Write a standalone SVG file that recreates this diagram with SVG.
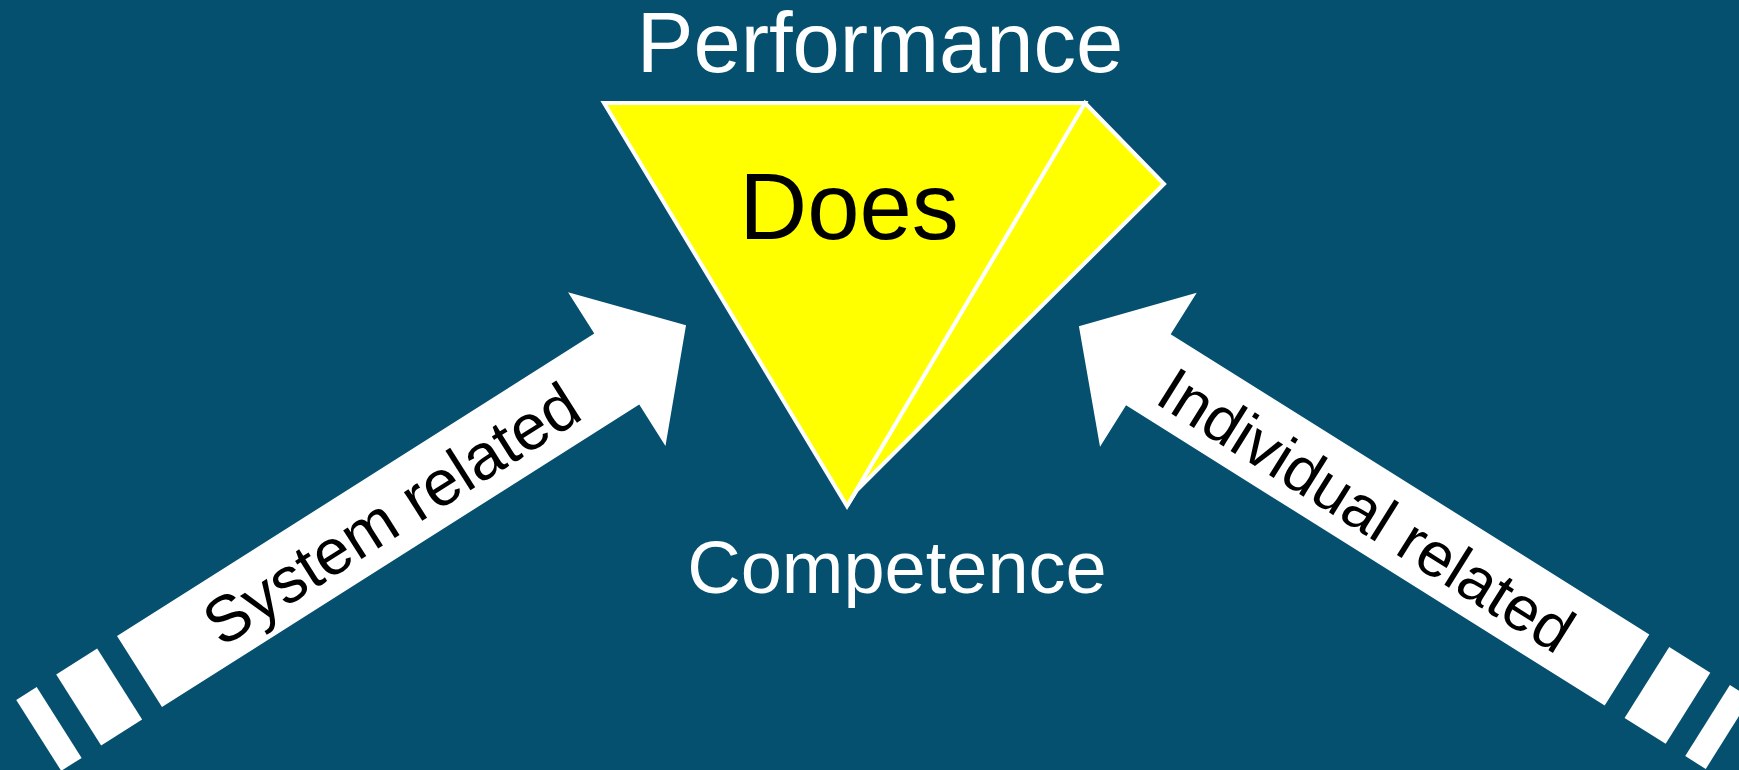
<svg xmlns="http://www.w3.org/2000/svg" width="1739" height="770" viewBox="0 0 1739 770">
<style>
text{font-family:"Liberation Sans",Arial,sans-serif}
.w{fill:#ffffff}
.lbl{fill:#ffffff;text-anchor:middle}
.arr{fill:#000000}
.tri{fill:#ffff00;stroke:#ffffff;stroke-width:4;stroke-linejoin:miter}
</style>
<rect width="1739" height="770" fill="#06506f"/>
<g id="pyramid">
<polygon class="tri" points="1085,103 1164,184 857,490 847,506"/>
<polygon class="tri" points="604,103 1085,103 847,506"/>
<text x="849" y="239" font-size="94" fill="#000000" text-anchor="middle">Does</text>
</g>
<g id="performance"><text class="lbl" x="880" y="72" font-size="85">Performance</text></g>
<g id="competence"><text class="lbl" x="897" y="593" font-size="74">Competence</text></g>
<g id="connectors">
<g id="system-arrow" transform="translate(139.5,671.5) rotate(-32.36)">
<polygon class="w" points="0,-42 565,-42 565,-91 647,0 565,91 565,42 0,42"/>
<rect class="w" x="-72" y="-42" width="48.5" height="84"/>
<rect class="w" x="-119.3" y="-42" width="24.2" height="84"/>
<text class="arr" x="82" y="24" font-size="64.5">System related</text>
</g>
<g id="individual-arrow" transform="translate(1627,670) rotate(32.1)">
<polygon class="w" points="0,-42 -565,-42 -565,-91 -647,0 -565,91 -565,42 0,42"/>
<rect class="w" x="23.5" y="-42" width="48.5" height="84"/>
<rect class="w" x="95.1" y="-42" width="24.2" height="84"/>
<text class="arr" x="-544" y="25" font-size="63">Individual related</text>
</g>
</g>
</svg>
